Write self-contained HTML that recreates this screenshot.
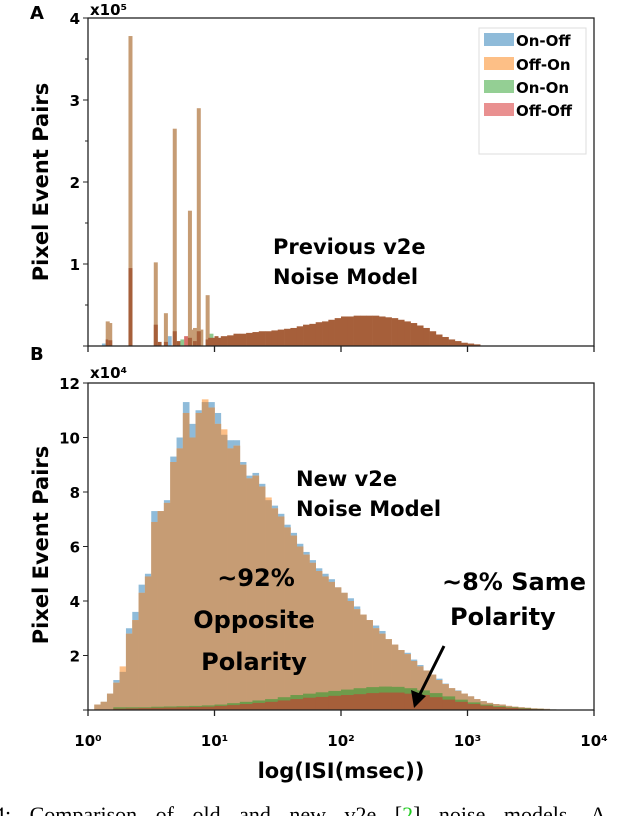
<!DOCTYPE html>
<html><head><meta charset="utf-8">
<style>
body{margin:0;background:#fff;width:632px;height:816px;overflow:hidden}
svg{display:block}
text{font-family:"DejaVu Sans","Liberation Sans",sans-serif;font-weight:bold;fill:#000}
</style></head>
<body>
<svg id="chart" width="632" height="816">
<g id="gA"></g>
<g id="gB"></g>
</svg>
<script>
// ---- Panel A data (units 1e5), bin left edges in log10(ms) ----
const aSpikeLog = [0.14, 0.16, 0.32, 0.52, 0.60, 0.67, 0.79, 0.83, 0.86, 0.93];
const aSpikeOpp = [0.30, 0.28, 3.78, 1.02, 0.40, 2.65, 1.65, 0.22, 2.90, 0.62];
const aSpikeSame = [0.08, 0.07, 0.95, 0.26, 0.05, 0.18, 0.10, 0.06, 0.18, 0.08];
const aSmallLog = [0.11, 0.55, 0.63, 0.70, 0.73, 0.76, 0.81, 0.88, 0.96, 1.00];
const aSmallVal = [0.03, 0.05, 0.12, 0.06, 0.08, 0.12, 0.2, 0.2, 0.15, 0.12];
const aHumpLog = [0.95,1.0,1.05,1.1,1.15,1.2,1.25,1.3,1.35,1.4,1.45,1.5,1.55,1.6,1.65,1.7,1.75,1.8,1.85,1.9,1.95,2.0,2.05,2.1,2.15,2.2,2.25,2.3,2.35,2.4,2.45,2.5,2.55,2.6,2.65,2.7,2.75,2.8,2.85,2.9,2.95,3.0,3.05];
const aHumpVal = [0.1,0.1,0.12,0.13,0.15,0.15,0.16,0.17,0.18,0.18,0.19,0.2,0.21,0.22,0.24,0.26,0.27,0.29,0.3,0.32,0.34,0.36,0.36,0.37,0.37,0.37,0.37,0.36,0.35,0.34,0.32,0.3,0.28,0.25,0.22,0.18,0.14,0.11,0.08,0.06,0.04,0.03,0.02];
const aYTicks = [0,1,2,3,4];
const aYMinor = [0.5,1.5,2.5,3.5];
// ---- Panel B data (units 1e4), 0.05-wide log bins starting at 0.05 ----
const bStart = 0.05, bStep = 0.05;
const bOffOn = [0.2,0.3,0.6,1.0,1.6,2.8,3.3,4.3,4.9,6.9,7.3,7.6,9.1,9.6,10.9,10.0,10.9,11.4,11.1,10.5,10.3,9.6,9.7,9.0,8.5,
 8.6,8.2,7.8,7.4,7.1,6.7,6.4,6.0,5.7,5.4,5.1,4.9,4.7,4.5,4.3,4.0,3.7,3.5,3.3,3.0,2.8,2.6,2.4,2.2,2.05,1.8,1.6,1.45,1.3,1.1,0.95,0.8,0.7,0.6,0.5,0.4,0.32,0.26,0.22,0.2,0.15,0.12,0.1,0.08,0.06,0.05,0.04,0.02];
const bOnOff = [0.2,0.3,0.6,1.1,1.4,3.0,3.6,4.6,5.0,7.3,7.3,7.7,9.3,10.0,11.3,10.5,11.0,11.3,11.3,10.9,10.1,9.9,9.9,9.1,8.6,
 8.7,8.3,7.7,7.5,7.2,6.8,6.5,6.1,5.8,5.5,5.2,5.0,4.8,4.5,4.3,4.1,3.8,3.5,3.3,3.1,2.9,2.6,2.4,2.2,2.1,1.85,1.65,1.45,1.3,1.15,0.97,0.8,0.72,0.6,0.5,0.4,0.33,0.26,0.22,0.2,0.15,0.12,0.1,0.08,0.06,0.05,0.04,0.02];
const sStart = 0.2, sStep = 0.1;
const bOnOn = [0.1,0.1,0.1,0.12,0.13,0.14,0.15,0.17,0.2,0.25,0.3,0.35,0.4,0.47,0.55,0.6,0.65,0.7,0.75,0.8,0.84,0.86,0.85,0.8,0.72,0.62,0.5,0.38,0.28,0.2,0.14,0.1,0.07,0.04,0.02];
const bOffOff = [0.05,0.06,0.07,0.08,0.09,0.1,0.11,0.12,0.15,0.18,0.22,0.26,0.3,0.35,0.4,0.45,0.48,0.52,0.55,0.58,0.62,0.64,0.64,0.6,0.55,0.47,0.38,0.3,0.22,0.16,0.11,0.08,0.05,0.03,0.01];
const bYTicks = [0,2,4,6,8,10,12];
const xTickExp = [0,1,2,3,4];

const NS='http://www.w3.org/2000/svg';
function mk(parent, tag, attrs, txt){const e=document.createElementNS(NS,tag);for(const k in attrs)e.setAttribute(k,attrs[k]);if(txt!==undefined)e.textContent=txt;parent.appendChild(e);return e;}
const X0=88, DEC=126.5;
const xS = l => X0 + l*DEC;
const yA = v => 346 - v*82;
const yB = v => 710 - v*(327/12);
const C={blue:'#8fbbd9',orange:'#fdbf86',tan:'#c69c74',green:'#6f9b4b',brown:'#a65f3a'};
const smallCols=['#8fbbd9','#a65f3a','#8fbbd9','#a65f3a','#8fc98f','#d9706a','#c69c74','#c69c74','#8fc98f','#a65f3a'];

const gA=document.getElementById('gA'), gB=document.getElementById('gB');
aSmallLog.forEach((l,i)=>{
  const r=mk(gA,'rect',{x:xS(l),y:yA(aSmallVal[i]),width:4,height:346-yA(aSmallVal[i]),fill:smallCols[i]});
  
  
});
aSpikeLog.forEach((l,i)=>{
  const x=xS(l), w=4;
  let r=mk(gA,'rect',{x:x,y:yA(aSpikeOpp[i]),width:w,height:346-yA(aSpikeOpp[i]),fill:C.tan});
  
  
  r=mk(gA,'rect',{x:x,y:yA(aSpikeSame[i]),width:w,height:346-yA(aSpikeSame[i]),fill:C.brown});
  
  
});
aHumpLog.forEach((l,i)=>{
  const r=mk(gA,'rect',{x:xS(l),y:yA(aHumpVal[i]),width:0.05*DEC+0.3,height:346-yA(aHumpVal[i]),fill:C.brown});
  
  
});
function barsB(arr,start,step,color,name){
  arr.forEach((v,i)=>{
    const l=start+i*step;
    const r=mk(gB,'rect',{x:xS(l),y:yB(v),width:step*DEC+0.3,height:710-yB(v),fill:color});
    
    
  });
}
barsB(bOnOff,bStart,bStep,C.blue,'bar-on-off');
barsB(bOffOn,bStart,bStep,C.orange,'bar-off-on');
barsB(bOnOff.map((v,i)=>Math.min(v,bOffOn[i])),bStart,bStep,C.tan,'bar-overlap');
barsB(bOnOn,sStart,sStep,C.green,'bar-on-on');
barsB(bOffOff,sStart,sStep,C.brown,'bar-off-off');

[[gA,18,346],[gB,383,710]].forEach(([g,t,b])=>{
  const f=mk(g,'rect',{x:88,y:t,width:506,height:b-t,fill:'none',stroke:'#222','stroke-width':1.3});
  
  
  xTickExp.forEach(e=>{mk(g,'line',{x1:xS(e),x2:xS(e),y1:b,y2:b+6,stroke:'#222','stroke-width':1.3});});
});
aYTicks.forEach(v=>{
  mk(gA,'line',{x1:83,x2:88,y1:yA(v),y2:yA(v),stroke:'#222'});
  if(v>0){const t=mk(gA,'text',{x:80,y:yA(v)+6,'text-anchor':'end','font-size':15},String(v));
  
  }
});
aYMinor.forEach(v=>mk(gA,'line',{x1:85,x2:88,y1:yA(v),y2:yA(v),stroke:'#222'}));
bYTicks.forEach(v=>{
  mk(gB,'line',{x1:83,x2:88,y1:yB(v),y2:yB(v),stroke:'#222'});
  if(v>0){const t=mk(gB,'text',{x:80,y:yB(v)+6,'text-anchor':'end','font-size':15},String(v));
  
  }
});
const sup=['⁰','¹','²','³','⁴'];
xTickExp.forEach(e=>{
  const t=mk(gB,'text',{x:xS(e),y:746,'text-anchor':'middle','font-size':15},'10'+sup[e]);
  
  
});
</script>
<svg style="position:absolute;left:0;top:0" width="632" height="816">
<text x="30" y="19" font-size="18">A</text>
<text x="30" y="360" font-size="18">B</text>
<text x="90" y="15" font-size="15">x10⁵</text>
<text x="90" y="378" font-size="15">x10⁴</text>
<text transform="translate(48,182) rotate(-90)" text-anchor="middle" font-size="21">Pixel Event Pairs</text>
<text transform="translate(48,545) rotate(-90)" text-anchor="middle" font-size="21">Pixel Event Pairs</text>
<text x="341" y="778" text-anchor="middle" font-size="21">log(ISI(msec))</text>
<g>
<rect x="479" y="28" width="107" height="126" fill="#fff" stroke="#ddd"/>
<rect x="484" y="33" width="30" height="13" fill="#8fbbd9"/><text x="516" y="46" font-size="15">On-Off</text>
<rect x="484" y="57" width="30" height="13" fill="#fdbf86"/><text x="516" y="70" font-size="15">Off-On</text>
<rect x="484" y="80" width="30" height="13" fill="#94cf94"/><text x="516" y="93" font-size="15">On-On</text>
<rect x="484" y="103" width="30" height="13" fill="#e99090"/><text x="516" y="116" font-size="15">Off-Off</text>
</g>
<text x="273" y="254" font-size="21">Previous v2e</text>
<text x="273" y="284" font-size="21">Noise Model</text>
<text x="296" y="486" font-size="21">New v2e</text>
<text x="296" y="516" font-size="21">Noise Model</text>
<text x="256" y="586" text-anchor="middle" font-size="24">~92%</text>
<text x="254" y="628" text-anchor="middle" font-size="24">Opposite</text>
<text x="254" y="670" text-anchor="middle" font-size="24">Polarity</text>
<text x="442" y="590" font-size="24">~8% Same</text>
<text x="450" y="625" font-size="24">Polarity</text>
<line x1="444" y1="646" x2="419" y2="696" stroke="#000" stroke-width="3"/>
<polygon points="414,708 411,690 426,696" fill="#000"/>
<text x="-6" y="822" font-size="22" word-spacing="13" style="font-family:'Liberation Serif',serif;font-weight:normal">4: Comparison of old and new v2e [<tspan fill="#2c2">2</tspan>] noise models. A</text>
</svg>
</body></html>
